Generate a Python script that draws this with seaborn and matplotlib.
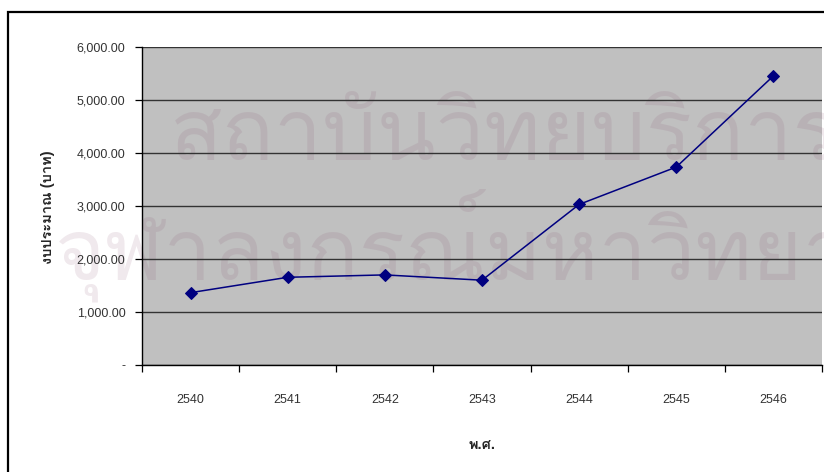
import pandas as pd
import seaborn as sns
import matplotlib
matplotlib.use('Agg')
import matplotlib.pyplot as plt
from matplotlib import font_manager
from matplotlib.ft2font import FT2Font
from matplotlib.patches import Rectangle
from matplotlib.ticker import FixedLocator

# data
years = ['2540', '2541', '2542', '2543', '2544', '2545', '2546']
budget = [1365, 1655, 1700, 1600, 3030, 3735, 5455]
yticks = [0, 1000, 2000, 3000, 4000, 5000, 6000]
ytick_labels = ['-', '1,000.00', '2,000.00', '3,000.00', '4,000.00', '5,000.00', '6,000.00']

df = pd.DataFrame({'year': years, 'budget': budget})

# find an installed font that has Thai glyphs
thai_font = None
for f in font_manager.fontManager.ttflist:
    try:
        if ord('\u0e01') in FT2Font(f.fname).get_charmap():
            thai_font = f.name
            break
    except Exception:
        pass

sns.set_style('white')
fams = ['Liberation Sans', 'DejaVu Sans']
if thai_font:
    fams = ['Liberation Sans', thai_font, 'DejaVu Sans']
plt.rcParams['font.family'] = fams

fig = plt.figure(figsize=(8.24, 4.72), dpi=100)
ax = fig.add_axes([142 / 824, 1 - 365 / 472, 680 / 824, 318 / 472])
ax.set_facecolor('#C0C0C0')

sns.lineplot(data=df, x='year', y='budget', ax=ax, color='#000080',
             marker='D', markersize=6, markeredgecolor='#000080',
             linewidth=1.1, sort=False, zorder=3)

ax.set_xlim(-0.5, len(years) - 0.5)
ax.set_ylim(0, 6000)
ax.set_yticks(yticks)
ax.set_yticklabels(ytick_labels)
ax.yaxis.grid(True, color='#333333', linewidth=1.0)
ax.set_axisbelow(True)

ax.xaxis.set_minor_locator(FixedLocator([i - 0.5 for i in range(len(years) + 1)]))
ax.tick_params(axis='x', which='major', length=0, pad=21, labelsize=9, labelcolor='#333333')
ax.tick_params(axis='x', which='minor', length=5, width=0.9, color='black', direction='out', bottom=True)
ax.tick_params(axis='y', length=5, width=0.9, color='black', direction='out', left=True,
               pad=7, labelsize=9, labelcolor='#333333')

for s in ['top', 'right']:
    ax.spines[s].set_visible(False)
for s in ['left', 'bottom']:
    ax.spines[s].set_color('black')
    ax.spines[s].set_linewidth(1.0)

ax.set_xlabel('')
ax.set_ylabel('')
fig.text(482 / 824, 1 - 445 / 472, 'พ.ศ.', ha='center', va='center',
         fontsize=10.5, fontweight='bold')
fig.text(48 / 824, 1 - 207 / 472, 'งบประมาณ (บาท)', ha='center', va='center',
         rotation=90, fontsize=10.5, fontweight='bold')

# faint library watermark, under the gridlines
if thai_font:
    for x, y, txt in [(170, 160, 'สถาบันวิทยบริการ'), (55, 280, 'จุฬาลงกรณ์มหาวิทยาลัย')]:
        ax.text(x / 824, 1 - y / 472, txt, fontsize=62, family=[thai_font],
                color='#864B6C', alpha=0.12, transform=fig.transFigure,
                clip_on=False, zorder=0.2)

# outer chart frame
fig.patches.append(Rectangle((8 / 824, -0.1), 1.2, 1 - 12 / 472 + 0.1,
                             transform=fig.transFigure, fill=False,
                             edgecolor='black', linewidth=1.6))

fig.savefig('out.png', dpi=100)
